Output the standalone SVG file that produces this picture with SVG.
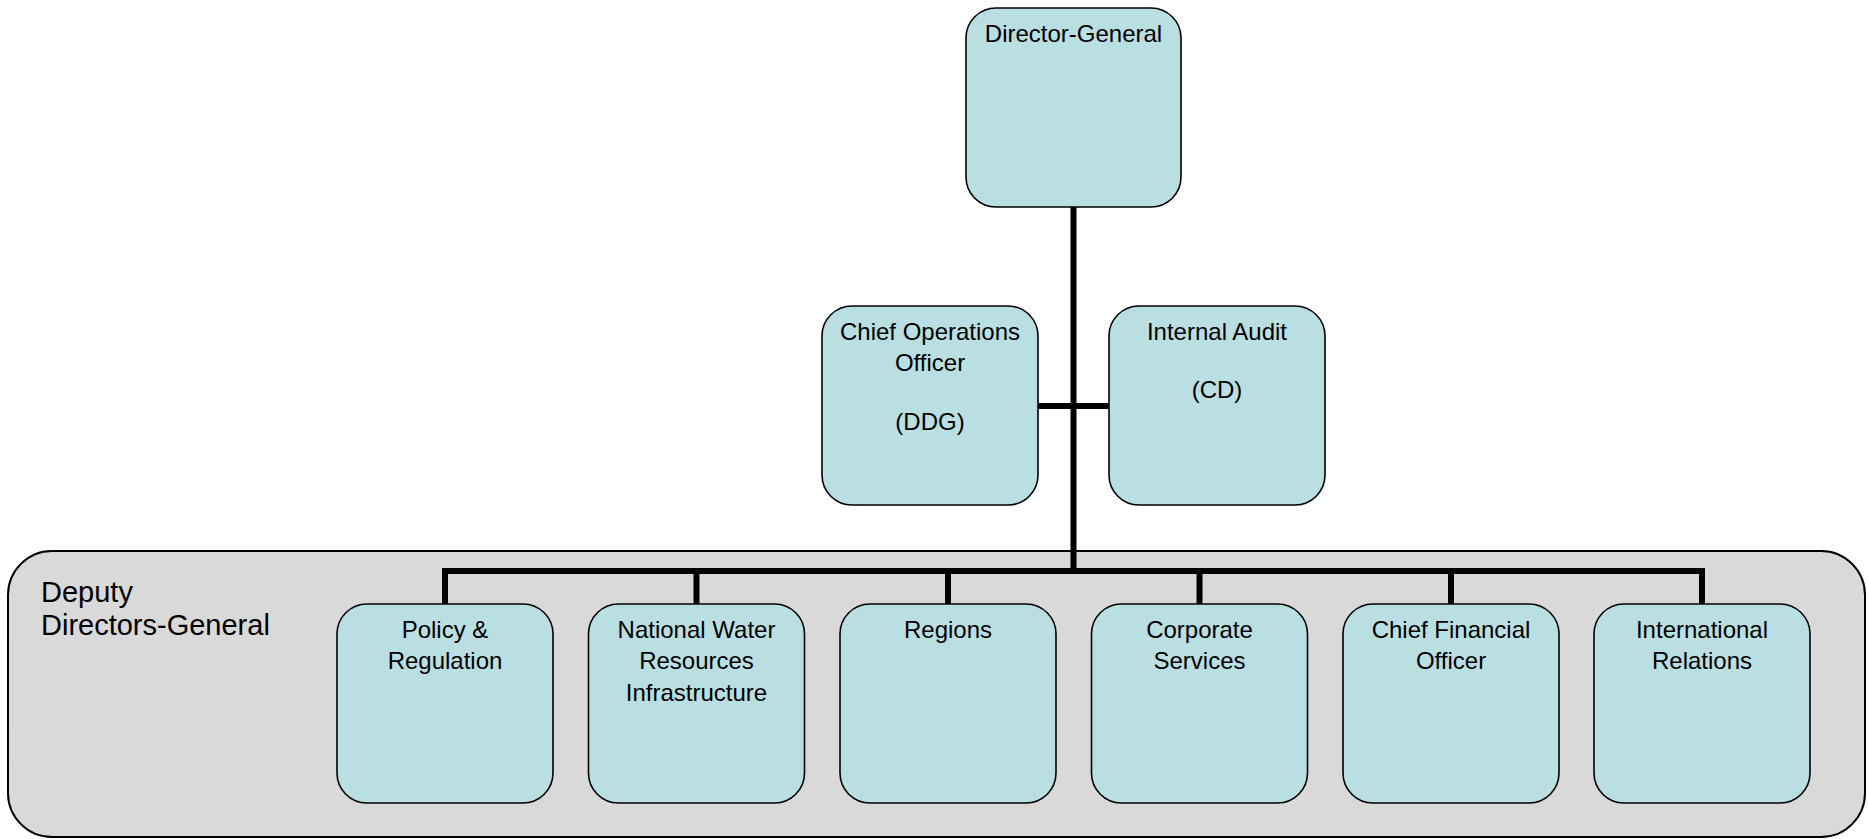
<svg xmlns="http://www.w3.org/2000/svg" width="1868" height="839" viewBox="0 0 1868 839">
  <style>
    .box { fill: #B9DFE3; stroke: #000; stroke-width: 1.6; }
    .group { fill: #D9D9D9; stroke: #000; stroke-width: 2; }
    .lbl { font-family: "Liberation Sans", Arial, sans-serif; font-size: 24px; fill: #000; text-anchor: middle; }
    .grp-lbl { font-family: "Liberation Sans", Arial, sans-serif; font-size: 29px; fill: #000; }
    .link { stroke: #000; stroke-width: 6; fill: none; stroke-linecap: butt; }
  </style>
  <rect width="1868" height="839" fill="#FFFFFF"/>

  <!-- Deputy Directors-General band -->
  <g id="deputy-group">
    <rect class="group" x="8" y="551" width="1857" height="286" rx="44" ry="44"/>
    <text class="grp-lbl" x="41" y="602">Deputy</text>
    <text class="grp-lbl" x="41" y="635">Directors-General</text>
  </g>

  <!-- Reporting lines -->
  <g id="connectors">
    <line class="link" x1="1073.5" y1="207" x2="1073.5" y2="574"/>
    <line class="link" x1="1038" y1="406" x2="1109" y2="406"/>
    <line class="link" x1="442" y1="571" x2="1705" y2="571"/>
    <line class="link" x1="445" y1="568" x2="445" y2="604"/>
    <line class="link" x1="696.5" y1="568" x2="696.5" y2="604"/>
    <line class="link" x1="948" y1="568" x2="948" y2="604"/>
    <line class="link" x1="1199.5" y1="568" x2="1199.5" y2="604"/>
    <line class="link" x1="1451" y1="568" x2="1451" y2="604"/>
    <line class="link" x1="1702" y1="568" x2="1702" y2="604"/>
  </g>

  <g id="director-general">
    <rect class="box" x="966" y="8" width="215" height="199" rx="30" ry="30"/>
    <text class="lbl" x="1073.5" y="42">Director-General</text>
  </g>

  <g id="chief-operations-officer">
    <rect class="box" x="822" y="306" width="216" height="199" rx="30" ry="30"/>
    <text class="lbl" x="930" y="340">Chief Operations</text>
    <text class="lbl" x="930" y="371">Officer</text>
    <text class="lbl" x="930" y="430">(DDG)</text>
  </g>

  <g id="internal-audit">
    <rect class="box" x="1109" y="306" width="216" height="199" rx="30" ry="30"/>
    <text class="lbl" x="1217" y="340">Internal Audit</text>
    <text class="lbl" x="1217" y="398">(CD)</text>
  </g>

  <g id="policy-regulation">
    <rect class="box" x="337" y="604" width="216" height="199" rx="30" ry="30"/>
    <text class="lbl" x="445" y="638">Policy &amp;</text>
    <text class="lbl" x="445" y="669">Regulation</text>
  </g>

  <g id="national-water-resources-infrastructure">
    <rect class="box" x="588.5" y="604" width="216" height="199" rx="30" ry="30"/>
    <text class="lbl" x="696.5" y="638">National Water</text>
    <text class="lbl" x="696.5" y="669">Resources</text>
    <text class="lbl" x="696.5" y="701">Infrastructure</text>
  </g>

  <g id="regions">
    <rect class="box" x="840" y="604" width="216" height="199" rx="30" ry="30"/>
    <text class="lbl" x="948" y="638">Regions</text>
  </g>

  <g id="corporate-services">
    <rect class="box" x="1091.5" y="604" width="216" height="199" rx="30" ry="30"/>
    <text class="lbl" x="1199.5" y="638">Corporate</text>
    <text class="lbl" x="1199.5" y="669">Services</text>
  </g>

  <g id="chief-financial-officer">
    <rect class="box" x="1343" y="604" width="216" height="199" rx="30" ry="30"/>
    <text class="lbl" x="1451" y="638">Chief Financial</text>
    <text class="lbl" x="1451" y="669">Officer</text>
  </g>

  <g id="international-relations">
    <rect class="box" x="1594" y="604" width="216" height="199" rx="30" ry="30"/>
    <text class="lbl" x="1702" y="638">International</text>
    <text class="lbl" x="1702" y="669">Relations</text>
  </g>
</svg>
